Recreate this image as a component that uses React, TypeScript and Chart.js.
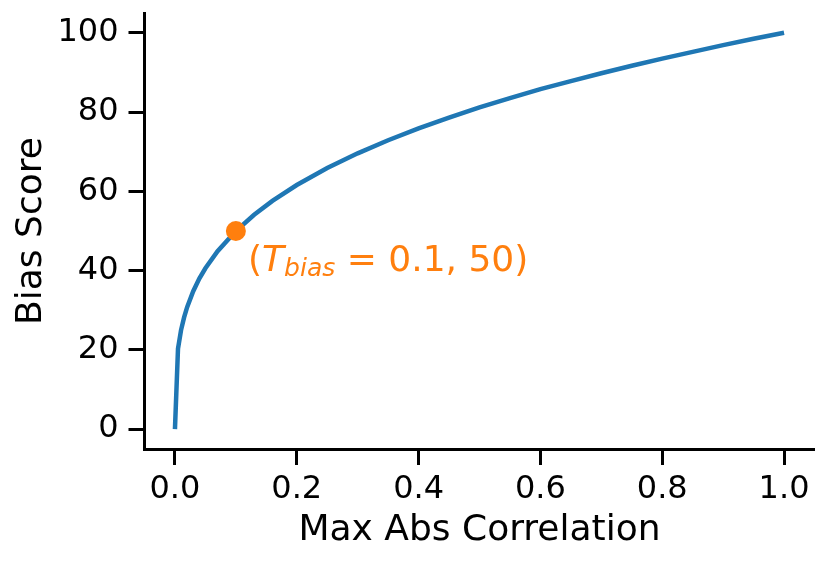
import { useEffect, useRef } from "react";
import { Chart, registerables, Plugin } from "chart.js";

Chart.register(...registerables);

// values
const corrX = [
  0, 0.005, 0.01, 0.015, 0.02, 0.03, 0.04, 0.05, 0.07, 0.1, 0.13, 0.16, 0.2,
  0.25, 0.3, 0.35, 0.4, 0.45, 0.5, 0.55, 0.6, 0.65, 0.7, 0.75, 0.8, 0.85, 0.9,
  0.95, 1.0,
];
const biasScore = [
  0, 20.3, 25.0, 28.2, 30.8, 34.8, 38.0, 40.6, 44.9, 50, 54.1, 57.6, 61.6,
  65.9, 69.6, 72.9, 75.9, 78.6, 81.2, 83.5, 85.8, 87.8, 89.8, 91.7, 93.5, 95.2,
  96.9, 98.5, 100,
];
const thresholdX = [0.1];
const thresholdY = [50];
const xTicks = [0, 0.2, 0.4, 0.6, 0.8, 1.0];
const yTicks = [0, 20, 40, 60, 80, 100];

const BLUE = "#1f77b4";
const ORANGE = "#ff7f0e";
const FONT = '"DejaVu Sans"';

const annotationPlugin: Plugin = {
  id: "thresholdLabel",
  afterDatasetsDraw(chart) {
    const ctx = chart.ctx;
    let x = chart.scales.x.getPixelForValue(0.12);
    const y = chart.scales.y.getPixelForValue(40);
    ctx.save();
    ctx.fillStyle = ORANGE;
    ctx.textAlign = "left";
    ctx.textBaseline = "alphabetic";
    const put = (text: string, font: string, dy: number) => {
      ctx.font = font;
      ctx.fillText(text, x, y + dy);
      x += ctx.measureText(text).width;
    };
    put("(", `36px ${FONT}`, 0);
    put("T", `italic 36px ${FONT}`, 0);
    put("bias", `italic 25px ${FONT}`, 5);
    put(" = 0.1, 50)", `36px ${FONT}`, 0);
    ctx.restore();
  },
};

export default function App() {
  const canvasRef = useRef<HTMLCanvasElement>(null);
  const chartRef = useRef<Chart | null>(null);

  useEffect(() => {
    if (!canvasRef.current) return;
    if (chartRef.current) chartRef.current.destroy();

    const axisCommon = {
      grid: {
        display: true,
        drawOnChartArea: false,
        drawTicks: true,
        tickLength: 16,
        tickWidth: 3,
        tickColor: "#000",
      },
      border: { display: true, color: "#000", width: 3 },
    };

    chartRef.current = new Chart(canvasRef.current, {
      type: "line",
      data: {
        datasets: [
          {
            type: "scatter",
            data: thresholdX.map((v, i) => ({ x: v, y: thresholdY[i] })),
            backgroundColor: ORANGE,
            borderWidth: 0,
            pointRadius: 10,
          },
          {
            type: "line",
            data: corrX.map((v, i) => ({ x: v, y: biasScore[i] })),
            borderColor: BLUE,
            borderWidth: 4.5,
            pointRadius: 0,
            tension: 0,
            fill: false,
          },
        ],
      },
      options: {
        responsive: false,
        animation: false,
        events: [],
        layout: { padding: { top: 13, right: 13.5, left: 0, bottom: 0 } },
        plugins: {
          legend: { display: false },
          tooltip: { enabled: false },
        },
        scales: {
          x: {
            type: "linear",
            min: -0.05,
            max: 1.05,
            ...axisCommon,
            afterBuildTicks: (s: any) => {
              s.ticks = xTicks.map((v) => ({ value: v }));
            },
            afterFit: (s: any) => {
              s.height = 114;
              s.paddingLeft = 0;
              s.paddingRight = 0;
            },
            ticks: {
              color: "#000",
              font: { family: FONT, size: 32 },
              padding: 5,
              maxRotation: 0,
              autoSkip: false,
              callback: (v: any) => Number(v).toFixed(1),
            },
            title: {
              display: true,
              text: "Max Abs Correlation",
              color: "#000",
              font: { family: FONT, size: 36 },
              padding: 11,
            },
          },
          y: {
            type: "linear",
            min: -5,
            max: 105,
            ...axisCommon,
            afterBuildTicks: (s: any) => {
              s.ticks = yTicks.map((v) => ({ value: v }));
            },
            afterFit: (s: any) => {
              s.width = 144.5;
              s.paddingTop = 0;
              s.paddingBottom = 0;
            },
            ticks: {
              color: "#000",
              font: { family: FONT, size: 32 },
              padding: 10,
              autoSkip: false,
            },
            title: {
              display: true,
              text: "Bias Score",
              color: "#000",
              font: { family: FONT, size: 36 },
              padding: 10,
            },
          },
        },
      },
      plugins: [annotationPlugin],
    });

    return () => {
      if (chartRef.current) {
        chartRef.current.destroy();
        chartRef.current = null;
      }
    };
  }, []);

  return (
    <div style={{ position: "absolute", left: 0, top: 0, width: 828, height: 563, background: "#fff" }}>
      <canvas ref={canvasRef} width={828} height={563} />
    </div>
  );
}
